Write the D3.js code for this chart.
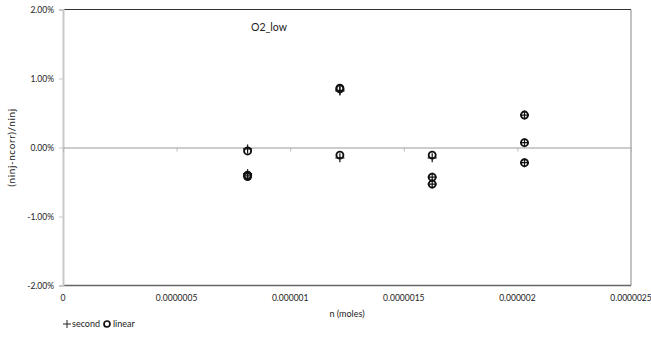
<!DOCTYPE html>
<html><head><meta charset="utf-8">
<script src="https://cdn.jsdelivr.net/npm/d3@7/dist/d3.min.js"></script>
<style>body{margin:0;background:#fff}svg{display:block}text{font-family:Lato,"Liberation Sans",sans-serif;fill:#222}</style>
</head><body><svg id="c" width="651" height="349"></svg>
<script>
const nValues = [0.8125e-6, 1.21875e-6, 1.625e-6, 2.03125e-6];
const linearRuns = [[-0.05, -0.40, -0.42], [0.86, 0.85, -0.11], [-0.11, -0.43, -0.53], [0.47, 0.07, -0.22]];
const secondRuns = [[-0.02, -0.38, -0.41], [0.82, 0.83, -0.15], [-0.15, -0.43, -0.53], [0.47, 0.07, -0.22]];
const xTicks = [0, 0.5e-6, 1e-6, 1.5e-6, 2e-6, 2.5e-6];
const xTickLabels = ["0", "0.0000005", "0.000001", "0.0000015", "0.000002", "0.0000025"];
const yTicks = [2, 1, 0, -1, -2];
const yTickLabels = ["2.00%", "1.00%", "0.00%", "-1.00%", "-2.00%"];

const svg = d3.select("#c");
const L = 63, R = 631, T = 9.5, B = 285.5;
const x = d3.scaleLinear().domain([0, 2.5e-6]).range([L, R]);
const y = d3.scaleLinear().domain([-2, 2]).range([B, T]);

// plot border
svg.append("line").attr("x1", L).attr("x2", R).attr("y1", T).attr("y2", T).attr("stroke", "#333").attr("stroke-width", 1);
svg.append("line").attr("x1", R).attr("x2", R).attr("y1", T).attr("y2", B).attr("stroke", "#888").attr("stroke-width", 1);
svg.append("line").attr("x1", L).attr("x2", R).attr("y1", B).attr("y2", B).attr("stroke", "#666").attr("stroke-width", 1.5);

// y axis
const yAxis = d3.axisLeft(y).tickValues(yTicks).tickSize(4).tickPadding(5)
  .tickFormat((d, i) => yTickLabels[i]);
const gy = svg.append("g").attr("transform", `translate(${L},0)`).call(yAxis);
gy.select(".domain").attr("stroke", "#c8c8c8").attr("stroke-width", 2);
gy.selectAll(".tick line").attr("stroke", "#c8c8c8");
gy.selectAll(".tick text").style("font-size", "8.5px").style("font-family", "Lato, sans-serif").attr("fill", "#333");

// x axis along zero line
const xAxis = d3.axisBottom(x).tickValues(xTicks).tickSize(4).tickFormat("");
const gx = svg.append("g").attr("transform", `translate(0,${y(0)})`).call(xAxis);
gx.select(".domain").attr("stroke", "#999").attr("stroke-width", 1);
gx.selectAll(".tick line").attr("stroke", "#bbb");

// x tick labels at bottom
svg.append("g").selectAll("text").data(xTicks).join("text")
  .attr("x", d => x(d)).attr("y", B + 15).attr("text-anchor", "middle")
  .style("font-size", "8.5px").text((d, i) => xTickLabels[i]);

// titles
svg.append("text").attr("x", x(1.25e-6)).attr("y", 317).attr("text-anchor", "middle").style("font-size", "9px").text("n (moles)");
svg.append("text").attr("transform", `translate(15,${y(0)}) rotate(-90)`).attr("text-anchor", "middle").style("font-size", "10px").style("letter-spacing", "0.6px").text("(ninj-ncorr)/ninj");
svg.append("text").attr("x", 251).attr("y", 31).style("font-size", "10.5px").text("O2_low");

// data
const lin = [], sec = [];
nValues.forEach((n, i) => {
  linearRuns[i].forEach(v => lin.push([n, v]));
  secondRuns[i].forEach(v => sec.push([n, v]));
});
svg.append("g").selectAll("path").data(sec).join("path")
  .attr("transform", d => `translate(${x(d[0])},${y(d[1])})`)
  .attr("d", "M-4.5,0H4.5M0,-4.5V4.5").attr("stroke", "#111").attr("stroke-width", 1.2).attr("fill", "none");
svg.append("g").selectAll("circle").data(lin).join("circle")
  .attr("cx", d => x(d[0])).attr("cy", d => y(d[1])).attr("r", 3.5)
  .attr("fill", "none").attr("stroke", "#111").attr("stroke-width", 1.9);

// legend
const lg = svg.append("g").attr("transform", "translate(63,324)");
lg.append("path").attr("d", "M0,0H8M4,-4V4").attr("stroke", "#222").attr("stroke-width", 1);
lg.append("text").attr("x", 9).attr("y", 3).style("font-size", "9px").text("second");
lg.append("circle").attr("cx", 44).attr("cy", 0).attr("r", 3).attr("fill", "none").attr("stroke", "#111").attr("stroke-width", 1.7);
lg.append("text").attr("x", 50).attr("y", 3).style("font-size", "9px").text("linear");
</script></body></html>
